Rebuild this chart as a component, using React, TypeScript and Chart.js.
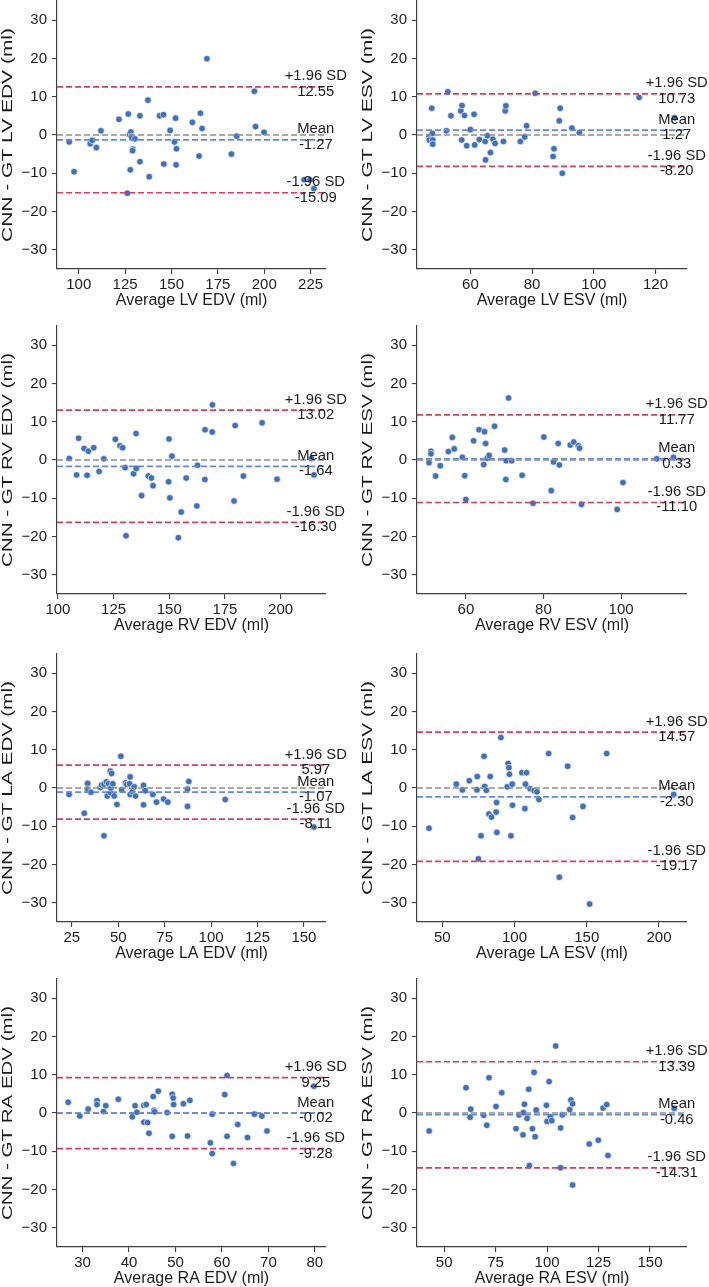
import React, { useEffect, useRef } from 'react';
import { Chart, registerables } from 'chart.js';

Chart.register(...registerables);

// ---------- data ----------
const LV_EDV_AVG = [94.9, 97.5, 106.2, 107.3, 109.5, 112.0, 121.7, 126.7, 126.2, 127.4, 127.8, 128.1, 128.5, 129.2, 129.0, 130.3, 133.0, 133.0, 137.3, 138.0, 143.6, 145.7, 145.9, 149.3, 151.6, 152.2, 152.7, 152.5, 161.3, 164.9, 165.6, 166.5, 169.1, 182.3, 185.2, 194.7, 195.3, 199.9, 221.5, 224.7, 226.8];
const LV_EDV_DIFF = [-1.8, -9.6, -2.3, -1.4, -3.3, 1.1, 4.1, 5.5, -15.2, 0.1, -9.1, 0.8, -0.4, -3.7, -4.1, -1.0, 5.0, -7.0, 9.1, -10.9, 5.0, 5.3, -7.6, 1.2, -1.8, 4.4, -3.6, -7.8, 3.3, -5.5, 5.7, 1.7, 19.9, -5.0, -0.3, 11.4, 2.2, 0.7, -11.7, -11.7, -14.0];

const LV_ESV_AVG = [46.6, 46.7, 47.5, 47.7, 47.8, 47.8, 52.2, 52.7, 53.7, 56.9, 57.3, 57.2, 58.1, 58.8, 60.0, 61.2, 61.4, 62.9, 64.8, 64.9, 65.5, 66.5, 67.3, 68.0, 70.7, 71.3, 71.5, 76.2, 77.6, 78.2, 81.0, 86.8, 87.1, 88.8, 89.1, 89.8, 92.9, 95.3, 114.7, 126.2];
const LV_ESV_DIFF = [-0.4, -1.3, 7.0, 0.4, -1.3, -2.4, 1.1, 11.3, 5.0, 6.3, 7.7, -1.3, 5.1, -2.8, 1.4, 5.4, -2.6, -1.2, -1.7, -6.5, -0.2, -4.6, -1.1, -2.2, -1.7, 6.3, 7.6, -1.7, -0.5, 2.4, 10.9, -5.6, -3.6, 3.7, 7.0, -10.0, 1.8, 0.6, 9.8, 4.5];

const RV_EDV_AVG = [105.1, 108.4, 109.3, 111.8, 113.1, 113.7, 116.1, 118.5, 120.6, 125.8, 127.9, 129.1, 130.2, 130.6, 134.0, 135.1, 135.2, 137.6, 140.6, 142.0, 142.7, 149.7, 149.9, 150.3, 151.2, 154.1, 155.4, 157.6, 162.4, 162.7, 166.0, 166.1, 169.3, 169.4, 179.1, 179.6, 183.3, 191.7, 198.4, 213.9, 215.0];
const RV_EDV_DIFF = [0.4, -3.9, 5.7, 3.0, -4.0, 2.3, 3.2, -3.0, 0.3, 5.4, 3.7, 3.2, -2.0, -19.8, -3.6, 6.9, -2.2, -9.3, -4.2, -4.7, -6.7, -5.7, 5.5, -9.9, 1.0, -20.3, -13.6, -4.7, -12.0, -1.4, -5.1, 7.9, 7.3, 14.4, -10.7, 9.0, -4.2, 9.7, -5.0, 0.4, -3.9];

const RV_ESV_AVG = [50.5, 51.0, 51.0, 52.2, 53.4, 55.5, 56.5, 57.0, 59.1, 59.7, 60.0, 62.0, 63.4, 64.6, 64.8, 65.1, 65.5, 66.0, 67.4, 70.0, 70.3, 70.4, 71.0, 71.8, 74.5, 77.3, 80.1, 82.0, 82.6, 83.8, 84.1, 86.9, 87.8, 89.0, 89.3, 89.8, 99.0, 100.5, 109.2, 113.5];
const RV_ESV_DIFF = [-0.7, 2.3, 1.6, -4.2, -1.5, 2.2, 5.9, 2.9, 0.7, -4.1, -10.3, 5.0, 7.9, -1.2, 7.4, 4.3, 0.5, 1.2, 8.8, 2.6, -5.1, -0.2, 16.2, -0.2, -4.0, -11.3, 6.0, -8.0, -0.5, 4.3, -1.3, 3.9, 4.7, 3.7, 3.1, -11.6, -12.9, -5.9, 0.3, 0.7];

const LA_EDV_AVG = [23.5, 31.7, 33.5, 33.5, 35.3, 40.3, 41.0, 42.3, 42.3, 43.6, 44.1, 44.8, 45.7, 45.9, 46.0, 46.4, 47.1, 47.8, 49.3, 51.4, 51.8, 53.9, 54.6, 56.1, 56.4, 56.4, 57.7, 58.6, 59.3, 63.6, 63.6, 64.5, 68.6, 70.6, 74.4, 76.7, 87.3, 87.3, 88.0, 107.6, 155.4];
const LA_EDV_DIFF = [-1.7, -6.6, 1.2, -0.3, -1.1, 0.1, 0.8, -12.5, 1.0, 1.6, -2.1, 1.1, 4.4, -1.3, 0.0, 3.8, 1.1, -2.1, -4.3, 8.3, -0.5, 1.3, 0.9, 1.1, 2.9, -1.7, -0.9, 0.3, -2.1, 0.7, -4.4, -0.7, -1.7, -3.7, -2.9, -3.7, -0.3, -4.8, 1.7, -3.0, -10.2];

const LA_ESV_AVG = [40.8, 59.7, 63.9, 68.7, 74.2, 74.0, 75.0, 76.8, 78.9, 79.4, 80.5, 82.3, 83.2, 84.1, 87.3, 87.6, 87.8, 90.6, 95.0, 95.6, 96.1, 96.5, 97.5, 98.4, 98.6, 105.1, 107.2, 107.6, 108.3, 110.8, 113.6, 115.5, 116.9, 123.6, 131.0, 136.8, 140.2, 147.4, 152.0, 163.8, 210.2];
const LA_ESV_DIFF = [-10.5, 1.0, -0.5, 1.9, 3.0, -0.5, -18.5, -12.5, 8.3, 0.4, -0.6, -6.8, 3.0, -7.6, -6.3, -3.8, -11.6, 13.2, 0.3, 6.4, 5.3, 3.6, -12.5, 1.0, -4.5, 4.0, -5.4, 1.0, 4.0, -0.2, -0.7, -1.0, -3.0, 9.0, -23.3, 5.7, -7.7, -4.8, -30.3, 9.0, -1.7];

const RA_EDV_AVG = [26.9, 29.4, 31.2, 33.1, 33.1, 34.5, 35.0, 37.7, 40.7, 41.3, 41.7, 43.2, 43.2, 43.7, 44.0, 44.3, 45.2, 45.4, 45.5, 46.3, 48.2, 49.3, 49.5, 49.3, 49.6, 51.7, 52.6, 53.1, 57.5, 57.9, 57.9, 60.6, 61.1, 61.1, 62.5, 63.4, 65.5, 67.0, 68.6, 69.7, 79.8];
const RA_EDV_DIFF = [2.8, -0.8, 1.0, 3.2, 2.2, 0.4, 1.9, 3.6, -1.0, 1.9, 0.2, -2.4, 2.0, 2.2, -2.5, -5.3, 4.3, 0.7, 0.3, 5.7, 0.1, 4.9, 3.9, -6.1, 2.2, 2.4, -6.0, 3.3, -7.8, -0.3, -10.6, 4.8, 9.8, -6.1, -13.2, -3.0, -6.4, -0.3, -0.8, -4.7, 7.0];

const RA_ESV_AVG = [42.7, 60.6, 62.9, 62.6, 69.2, 70.7, 71.8, 75.2, 78.0, 84.9, 86.4, 88.3, 88.5, 89.0, 90.3, 91.1, 91.4, 92.9, 93.7, 94.2, 94.7, 99.7, 100.0, 101.0, 101.6, 102.3, 104.2, 106.6, 106.5, 107.4, 111.0, 111.6, 112.4, 112.4, 120.5, 124.9, 127.2, 129.0, 129.6, 161.8];
const RA_ESV_DIFF = [-4.7, 6.6, 1.0, -1.1, -0.6, -3.2, 9.2, 1.7, 5.3, -4.1, -0.5, -5.7, 0.1, 2.3, -1.4, 6.2, -13.7, -4.1, 10.6, -6.2, 0.8, 2.0, -2.2, 8.2, -1.0, -2.0, 17.5, -3.9, -14.3, -0.5, 0.9, 3.4, 2.4, -18.8, -8.1, -7.1, 1.3, 2.2, -11.1, 1.2];

const MEAN_DIFF = [-1.27, 1.27, -1.64, 0.33, -1.07, -2.30, -0.02, -0.46];
const UPPER_LOA = [12.55, 10.73, 13.02, 11.77, 5.97, 14.57, 9.25, 13.39];
const LOWER_LOA = [-15.09, -8.20, -16.30, -11.10, -8.11, -19.17, -9.28, -14.31];

const X_LABELS = ['Average LV EDV (ml)', 'Average LV ESV (ml)', 'Average RV EDV (ml)', 'Average RV ESV (ml)', 'Average LA EDV (ml)', 'Average LA ESV (ml)', 'Average RA EDV (ml)', 'Average RA ESV (ml)'];
const Y_LABELS = ['CNN - GT LV EDV (ml)', 'CNN - GT LV ESV (ml)', 'CNN - GT RV EDV (ml)', 'CNN - GT RV ESV (ml)', 'CNN - GT LA EDV (ml)', 'CNN - GT LA ESV (ml)', 'CNN - GT RA EDV (ml)', 'CNN - GT RA ESV (ml)'];
const X_TICKS = [[100, 125, 150, 175, 200, 225], [60, 80, 100, 120], [100, 125, 150, 175, 200], [60, 80, 100], [25, 50, 75, 100, 125, 150], [50, 100, 150, 200], [30, 40, 50, 60, 70, 80], [50, 75, 100, 125, 150]];
const X_LIMITS = [[88.3, 233.3], [42.7, 130.2], [99.6, 220.4], [47.4, 117.0], [17.0, 161.9], [32.5, 219.4], [24.5, 82.4], [36.8, 168.0]];
const Y_TICKS = [-30, -20, -10, 0, 10, 20, 30];
const Y_LIMITS = [-35, 35];

const AVERAGES = [LV_EDV_AVG, LV_ESV_AVG, RV_EDV_AVG, RV_ESV_AVG, LA_EDV_AVG, LA_ESV_AVG, RA_EDV_AVG, RA_ESV_AVG];
const DIFFERENCES = [LV_EDV_DIFF, LV_ESV_DIFF, RV_EDV_DIFF, RV_ESV_DIFF, LA_EDV_DIFF, LA_ESV_DIFF, RA_EDV_DIFF, RA_ESV_DIFF];

// ---------- layout & style ----------
const FONT = '"Liberation Sans", Arial, Helvetica, sans-serif';
const CANVAS_W = 354;
const CANVAS_H = 334;
const PAD_TOP = 12;
const PLOT_H = 268;
const ROW_TOPS = [1, 326, 654, 979];
const COL_X = [0, 354];
const PLOT_LEFT = [57, 417];
const PLOT_RIGHT = [326, 687];

const POINT_COLOR = '#4271b5';
const RED = '#dc3d5c';
const BLUE = '#6686e8';
const GRAY = '#8f8f8f';
const AXIS = '#404040';
const TEXT = '#1c1c1c';

const fmtTick = (v: number) => (v < 0 ? '\u2212' + Math.abs(v) : String(v));

function BlandAltman({ idx }: { idx: number }) {
  const ref = useRef<HTMLCanvasElement>(null);
  const row = Math.floor(idx / 2);
  const col = idx % 2;
  const left = COL_X[col];
  const top = ROW_TOPS[row] - PAD_TOP;

  useEffect(() => {
    const canvas = ref.current;
    if (!canvas) return;
    const yAxisW = PLOT_LEFT[col] - left;
    const padRight = left + CANVAS_W - PLOT_RIGHT[col];
    const xAxisH = CANVAS_H - PAD_TOP - PLOT_H;
    const [xmin, xmax] = X_LIMITS[idx];

    const hline = (v: number, color: string) => ({
      type: 'scatter' as const,
      data: [{ x: xmin, y: v }, { x: xmax, y: v }],
      showLine: true,
      borderColor: color,
      borderWidth: 1.7,
      borderDash: [6, 3],
      pointRadius: 0,
      pointHoverRadius: 0,
    });

    const loaText = {
      id: 'loaText',
      afterDatasetsDraw(chart: any) {
        const { ctx, chartArea: a, scales } = chart;
        const cx = a.left + 0.962 * (a.right - a.left);
        ctx.save();
        ctx.font = `14.8px ${FONT}`;
        ctx.fillStyle = TEXT;
        ctx.textAlign = 'center';
        ctx.textBaseline = 'alphabetic';
        const items: [string, number][] = [
          ['+1.96 SD', UPPER_LOA[idx]],
          ['Mean', MEAN_DIFF[idx]],
          ['-1.96 SD', LOWER_LOA[idx]],
        ];
        for (const [lab, v] of items) {
          const y = scales.y.getPixelForValue(v);
          ctx.fillText(lab, cx, y - 6.5);
          ctx.fillText(v.toFixed(2), cx, y + 9);
        }
        ctx.restore();
      },
    };

    const yTitle = {
      id: 'yTitle',
      afterDraw(chart: any) {
        const { ctx, chartArea: a } = chart;
        ctx.save();
        ctx.font = `15px ${FONT}`;
        ctx.fillStyle = TEXT;
        const w = ctx.measureText(Y_LABELS[idx]).width;
        ctx.translate(a.left - 49.5, (a.top + a.bottom) / 2);
        ctx.rotate(-Math.PI / 2);
        ctx.scale(214 / w, 1);
        ctx.textAlign = 'center';
        ctx.textBaseline = 'middle';
        ctx.fillText(Y_LABELS[idx], 0, 0);
        ctx.restore();
      },
    };

    const zeroPad = (s: any) => {
      s.paddingLeft = 0;
      s.paddingRight = 0;
      s.paddingTop = 0;
      s.paddingBottom = 0;
    };

    const chart = new Chart(canvas, {
      type: 'scatter',
      data: {
        datasets: [
          hline(UPPER_LOA[idx], RED),
          hline(LOWER_LOA[idx], RED),
          hline(MEAN_DIFF[idx], BLUE),
          hline(0, GRAY),
          {
            type: 'scatter',
            data: AVERAGES[idx].map((x, i) => ({ x, y: DIFFERENCES[idx][i] })),
            pointRadius: 3.3,
            pointHoverRadius: 3.3,
            pointBackgroundColor: POINT_COLOR,
            pointBorderColor: '#ffffff',
            pointBorderWidth: 0.6,
          },
        ] as any,
      },
      options: {
        responsive: false,
        animation: false,
        devicePixelRatio: 1,
        events: [],
        layout: { padding: { top: PAD_TOP, right: padRight, left: 0, bottom: 0 } },
        plugins: { legend: { display: false }, tooltip: { enabled: false } },
        scales: {
          x: {
            type: 'linear',
            min: xmin,
            max: xmax,
            bounds: 'data',
            afterBuildTicks: (s: any) => {
              s.ticks = X_TICKS[idx].map((v) => ({ value: v }));
            },
            afterFit: (s: any) => {
              s.height = xAxisH;
              zeroPad(s);
            },
            grid: { display: true, drawOnChartArea: false, drawTicks: true, tickLength: 5, color: AXIS, lineWidth: 1.1 },
            border: { display: true, color: AXIS, width: 1.2 },
            ticks: {
              color: TEXT,
              font: { family: FONT, size: 15 },
              padding: 2,
              maxRotation: 0,
              autoSkip: false,
              callback: (v: any) => fmtTick(Number(v)),
            },
            title: {
              display: true,
              text: X_LABELS[idx],
              color: TEXT,
              font: { family: FONT, size: 16 },
              padding: { top: 0, bottom: 12.5 },
            },
          },
          y: {
            type: 'linear',
            min: Y_LIMITS[0],
            max: Y_LIMITS[1],
            bounds: 'data',
            afterBuildTicks: (s: any) => {
              s.ticks = Y_TICKS.map((v) => ({ value: v }));
            },
            afterFit: (s: any) => {
              s.width = yAxisW;
              zeroPad(s);
            },
            grid: { display: true, drawOnChartArea: false, drawTicks: true, tickLength: 5, color: AXIS, lineWidth: 1.1 },
            border: { display: true, color: AXIS, width: 1.2 },
            ticks: {
              color: TEXT,
              font: { family: FONT, size: 15 },
              padding: 5,
              autoSkip: false,
              callback: (v: any) => fmtTick(Number(v)),
            },
            title: { display: false },
          },
        },
      } as any,
      plugins: [loaText, yTitle],
    });
    return () => chart.destroy();
  }, []);

  return (
    <canvas
      ref={ref}
      width={CANVAS_W}
      height={CANVAS_H}
      style={{ position: 'absolute', left, top, width: CANVAS_W, height: CANVAS_H }}
    />
  );
}

export default function App() {
  return (
    <div
      style={{
        position: 'absolute',
        left: 0,
        top: 0,
        width: 709,
        height: 1287,
        overflow: 'hidden',
        background: '#ffffff',
      }}
    >
      {X_LABELS.map((_, i) => (
        <BlandAltman key={i} idx={i} />
      ))}
    </div>
  );
}
